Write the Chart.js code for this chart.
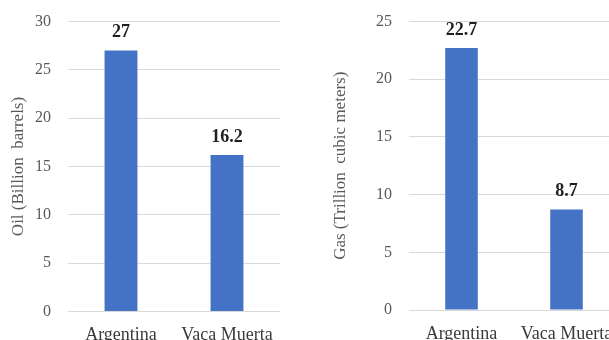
<!DOCTYPE html>
<html>
<head>
<meta charset="utf-8">
<script src="https://cdn.jsdelivr.net/npm/chart.js@4"></script>
<style>
  html, body { margin: 0; padding: 0; background: #fff; overflow: hidden; }
  body { width: 609px; height: 340px; position: relative; }
  #oilBox { position: absolute; left: 0; top: 0; width: 300px; height: 340px; }
  #gasBox { position: absolute; left: 300px; top: 0; width: 339px; height: 340px; }
</style>
</head>
<body>
<div id="oilBox"><canvas id="oilChart"></canvas></div>
<div id="gasBox"><canvas id="gasChart"></canvas></div>
<script>
const categories = ["Argentina", "Vaca Muerta"];
const oilValues = [27, 16.2];
const gasValues = [22.7, 8.7];
const oilTicks = [0, 5, 10, 15, 20, 25, 30];
const gasTicks = [0, 5, 10, 15, 20, 25];

const serif = "'Liberation Serif', 'Times New Roman', serif";

// draws the value above each bar
const valueLabels = {
    id: 'valueLabels',
    afterDatasetsDraw(chart) {
        const ctx = chart.ctx;
        const meta = chart.getDatasetMeta(0);
        ctx.save();
        ctx.font = 'bold 18px ' + serif;
        ctx.fillStyle = '#1f1f1f';
        ctx.textAlign = 'center';
        ctx.textBaseline = 'middle';
        meta.data.forEach((bar, i) => {
            ctx.fillText(String(chart.data.datasets[0].data[i]), bar.x, bar.y - 18);
        });
        ctx.restore();
    }
};

function makeChart(id, values, ticks, title, axisWidth, titlePad, bottom) {
    return new Chart(document.getElementById(id), {
        type: 'bar',
        data: {
            labels: categories,
            datasets: [{
                data: values,
                backgroundColor: '#4472C4',
                borderWidth: 0,
                barPercentage: 0.62,
                categoryPercentage: 0.5
            }]
        },
        options: {
            responsive: true,
            maintainAspectRatio: false,
            animation: false,
            layout: { padding: { top: 21.5, right: 20, left: 0, bottom: 0 } },
            scales: {
                x: {
                    grid: { display: false, drawTicks: false },
                    border: { display: false },
                    ticks: {
                        color: '#3a3a3a',
                        font: { family: serif, size: 18 },
                        padding: 13,
                        maxRotation: 0,
                        autoSkip: false
                    },
                    afterFit: (scale) => { scale.height = bottom; }
                },
                y: {
                    min: 0,
                    max: ticks[ticks.length - 1],
                    afterBuildTicks: (scale) => { scale.ticks = ticks.map(v => ({ value: v })); },
                    grid: { color: '#d9d9d9', drawTicks: false, lineWidth: 1 },
                    border: { display: false },
                    ticks: {
                        color: '#595959',
                        font: { family: serif, size: 16 },
                        padding: 17
                    },
                    title: {
                        display: true,
                        text: title,
                        color: '#595959',
                        font: { family: serif, size: 17 },
                        padding: { top: titlePad, bottom: 0 }
                    },
                    afterFit: (scale) => {
                        scale.width = axisWidth;
                        // tick padding would otherwise push the plot top down
                        scale.paddingTop = 0;
                        scale.paddingBottom = 0;
                    }
                }
            },
            plugins: {
                legend: { display: false },
                tooltip: { enabled: false }
            }
        },
        plugins: [valueLabels]
    });
}

makeChart('oilChart', oilValues, oilTicks, 'Oil (Billion  barrels)', 68, 8, 28.5);
makeChart('gasChart', gasValues, gasTicks, 'Gas (Trillion  cubic meters)', 109, 30, 30);
</script>
</body>
</html>
